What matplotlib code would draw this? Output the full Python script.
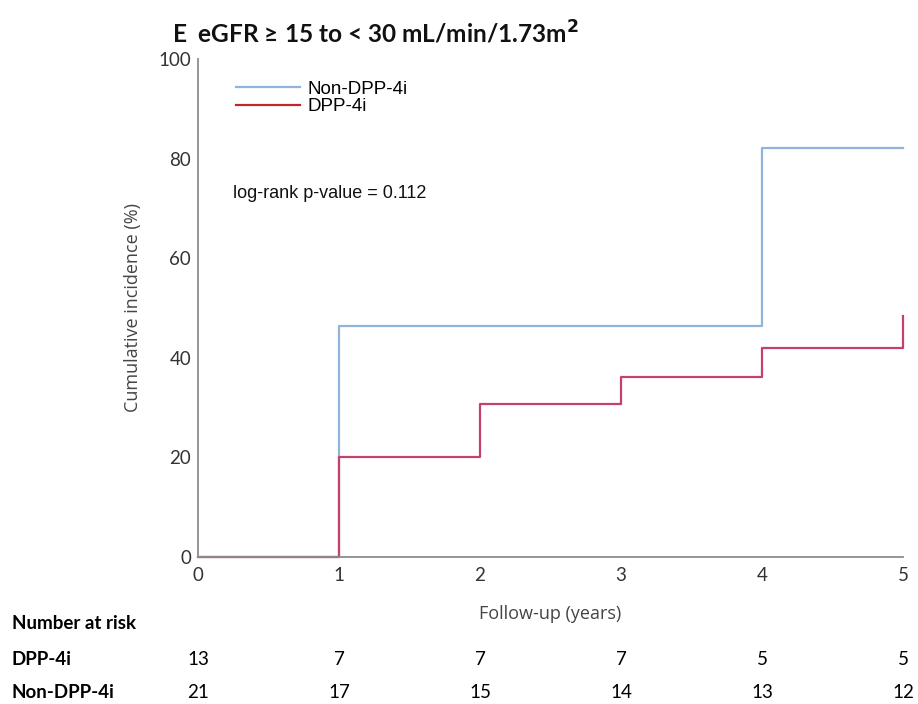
import matplotlib
matplotlib.use('Agg')
import matplotlib.pyplot as plt
import matplotlib.transforms as mtransforms

# --- data -----------------------------------------------------------
years = [0, 1, 2, 3, 4, 5]
non_dpp_t = [0, 1, 4, 5]
non_dpp_y = [0, 46.3, 82.2, 82.2]
dpp_t = [0, 1, 2, 3, 4, 5, 5]
dpp_y = [0, 20.1, 30.7, 36.1, 42.0, 42.0, 48.3]
risk_dpp = [13, 7, 7, 7, 5, 5]
risk_non_dpp = [21, 17, 15, 14, 13, 12]

BLUE = '#90b4da'
RED = '#c4426a'
GREY = '#8c8c8c'

fig = plt.figure(figsize=(9.18, 7.04), dpi=100, facecolor='white')
ax = fig.add_axes([0.2157, 0.2088, 0.768, 0.7074])

ax.step(non_dpp_t, non_dpp_y, where='post', color=BLUE, lw=1.6, label='Non-DPP-4i')
ax.step(dpp_t, dpp_y, where='post', color=RED, lw=1.6, label='DPP-4i')

ax.set_xlim(0, 5)
ax.set_ylim(0, 100)
ax.set_xticks(years)
ax.set_yticks([0, 20, 40, 60, 80, 100])
ax.tick_params(length=0, labelsize=13.5, labelcolor='#333333')
ax.tick_params(axis='x', pad=7)
ax.tick_params(axis='y', pad=5)
for lbl in ax.get_xticklabels() + ax.get_yticklabels():
    lbl.set_family('Lato')
for s in ['top', 'right']:
    ax.spines[s].set_visible(False)
for s in ['left', 'bottom']:
    ax.spines[s].set_color(GREY)
    ax.spines[s].set_linewidth(1.3)
for ln in ax.lines:
    ln.set_clip_on(False)

ax.set_ylabel('Cumulative incidence (%)', fontsize=13, color='#444444',
              family='Open Sans', labelpad=12)
ax.set_xlabel('Follow-up (years)', fontsize=13, color='#444444',
              family='Open Sans', labelpad=15)

leg = ax.legend(loc='upper left', bbox_to_anchor=(0.03, 0.99), frameon=False,
                prop={'family': 'Liberation Sans', 'size': 13.5},
                handlelength=3.4, handletextpad=0.4, labelspacing=0.0)
leg.get_lines()[1].set_color('#c0272d')

ax.text(0.05, 0.72, 'log-rank p-value = 0.112', transform=ax.transAxes,
        fontsize=13, family='Liberation Sans', color='#111111')

fig.text(0.187, 0.953, r'E  eGFR ≥ 15 to < 30 mL/min/1.73m$^{\mathbf{2}}$',
         fontsize=17.6, fontweight='bold', family='Lato', color='#111111',
         va='center')

# --- number at risk table --------------------------------------------
trans = mtransforms.blended_transform_factory(ax.transData, fig.transFigure)
fig.text(0.013, 0.115, 'Number at risk', fontsize=13.5, fontweight='bold',
         family='Lato', va='center')
fig.text(0.013, 0.063, 'DPP-4i', fontsize=13.5, fontweight='bold',
         family='Lato', va='center')
fig.text(0.013, 0.016, 'Non-DPP-4i', fontsize=13.5, fontweight='bold',
         family='Lato', va='center')
for x, a, b in zip(years, risk_dpp, risk_non_dpp):
    ax.text(x, 0.063, str(a), transform=trans, ha='center', va='center',
            fontsize=13.5, family='Lato')
    ax.text(x, 0.016, str(b), transform=trans, ha='center', va='center',
            fontsize=13.5, family='Lato')

fig.savefig('out.png', dpi=100, facecolor='white')
